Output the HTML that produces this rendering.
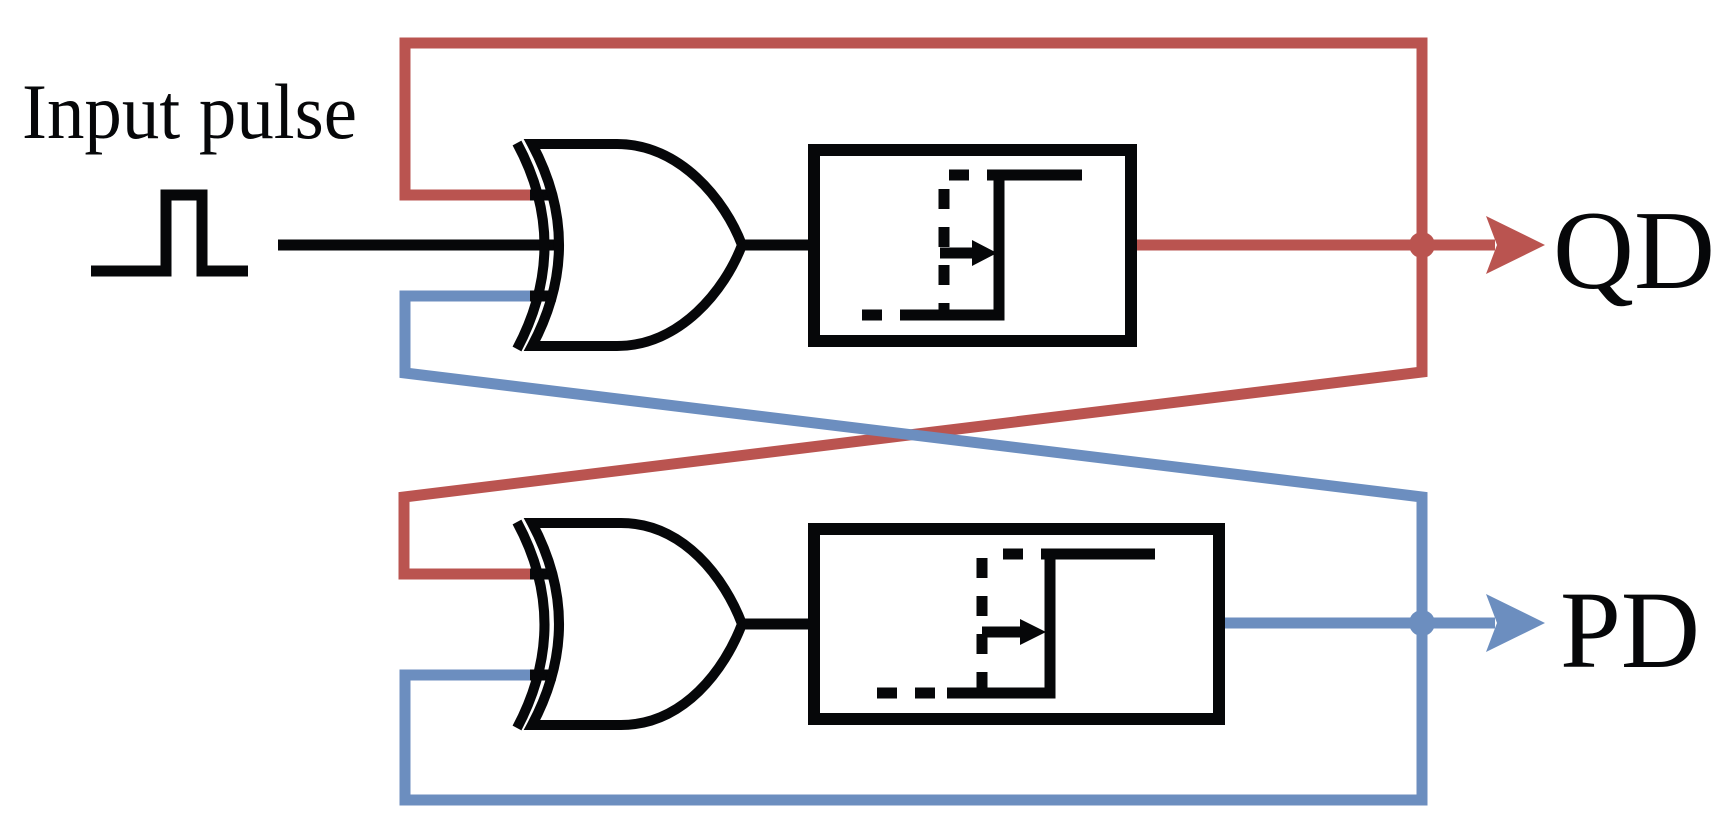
<!DOCTYPE html>
<html><head><meta charset="utf-8"><style>html,body{margin:0;padding:0;background:#fff}svg{display:block}</style></head>
<body>
<svg width="1723" height="836" viewBox="0 0 1723 836" xmlns="http://www.w3.org/2000/svg">
<g fill="none" stroke-width="11" stroke-linejoin="miter" stroke-linecap="butt">
<path d="M532,195 L405,195 L405,43 L1422,43 L1422,372 L404,497 L404,574 L532,574" stroke="#BA5450"/>
<path d="M532,296 L405,296 L405,373 L1422,497 L1422,800 L405,800 L405,675 L532,675" stroke="#6C8EBF"/>
<line x1="1136" y1="245" x2="1495" y2="245" stroke="#BA5450"/>
<line x1="1224" y1="623" x2="1495" y2="623" stroke="#6C8EBF"/>
</g>
<circle cx="1422" cy="245" r="13" fill="#BA5450"/>
<polygon points="1486,216 1545,245 1486,274 1497,245" fill="#BA5450"/>
<circle cx="1422" cy="623" r="13" fill="#6C8EBF"/>
<polygon points="1486,594 1545,623 1486,652 1497,623" fill="#6C8EBF"/>

<g fill="none" stroke="#060709" stroke-width="11">
<path d="M91,271 L166,271 L166,195 L202,195 L202,271 L248,271"/>
<line x1="278" y1="245" x2="560" y2="245"/>
<line x1="530" y1="195" x2="556" y2="195"/>
<line x1="530" y1="296" x2="556" y2="296"/>
<line x1="530" y1="574" x2="556" y2="574"/>
<line x1="530" y1="675" x2="556" y2="675"/>
</g>

<g fill="none" stroke="#060709" stroke-width="10">
<path d="M517,143 Q572,245 517,349"/>
<path d="M532,144 L617,144 C680,144 725,200 742,245 C725,290 680,346 617,346 L532,346 Q586,245 532,144 Z"/>
</g>
<g fill="none" stroke="#060709" stroke-width="11">
<line x1="742" y1="245" x2="808" y2="245"/>
<rect x="814" y="150" width="317" height="191" stroke-width="12"/>
<path d="M917,315 L999,315 L999,175 L1082,175"/>
<g stroke-dasharray="20 18"><line x1="944" y1="189" x2="944" y2="315"/>
<line x1="949" y1="175" x2="999" y2="175"/>
<line x1="862" y1="315" x2="917" y2="315"/></g>
<line x1="940" y1="253" x2="975" y2="253"/>
</g>
<polygon points="972,240 997,253 972,266" fill="#060709"/>

<g fill="none" stroke="#060709" stroke-width="10">
<path d="M517,522 Q572,624 517,728"/>
<path d="M532,523 L621,523 C684,523 725,579 742,624 C725,669 684,725 621,725 L532,725 Q586,624 532,523 Z"/>
</g>
<g fill="none" stroke="#060709" stroke-width="11">
<line x1="742" y1="624" x2="808" y2="624"/>
<rect x="814" y="529" width="405" height="190" stroke-width="12"/>
<path d="M947,693 L1050,693 L1050,554 L1155,554"/>
<g stroke-dasharray="20 18"><line x1="982" y1="558" x2="982" y2="693"/>
<line x1="1003" y1="554" x2="1050" y2="554"/>
<line x1="877" y1="693" x2="947" y2="693"/></g>
<line x1="982" y1="632" x2="1024" y2="632"/>
</g>
<polygon points="1020,619 1046,632 1020,645" fill="#060709"/>

<g font-family="'Liberation Serif', serif" fill="#060709">
<text x="22" y="138" font-size="78" textLength="335" lengthAdjust="spacingAndGlyphs">Input pulse</text>
<text x="1553" y="288" font-size="112" textLength="162" lengthAdjust="spacingAndGlyphs">QD</text>
<text x="1560" y="667" font-size="110" textLength="140" lengthAdjust="spacingAndGlyphs">PD</text>
</g>
</svg>
</body></html>
